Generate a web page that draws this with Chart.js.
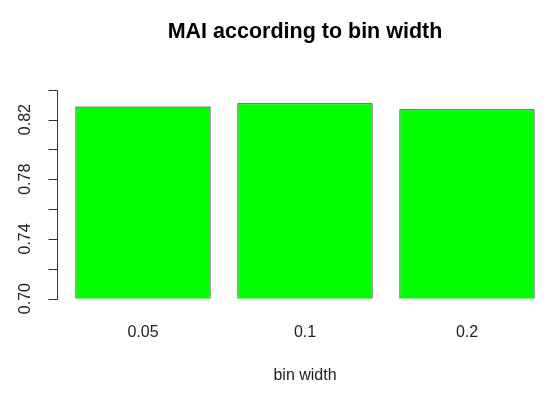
<!DOCTYPE html>
<html>
<head>
<meta charset="utf-8">
<script src="https://cdn.jsdelivr.net/npm/chart.js@4/dist/chart.umd.min.js"></script>
<style>
  html, body { margin: 0; padding: 0; background: #ffffff; }
  #wrap { width: 550px; height: 398px; }
</style>
</head>
<body>
<div id="wrap"><canvas id="c" width="550" height="398"></canvas></div>
<script>
const categories = ['0.05', '0.1', '0.2'];
const maiValues = [0.8288, 0.8310, 0.8270];
const yTickValues = [0.70, 0.72, 0.74, 0.76, 0.78, 0.80, 0.82, 0.84];
const yTickLabels = ['0.70', '', '0.74', '', '0.78', '', '0.82', ''];
const chartTitle = 'MAI according to bin width';
const xAxisTitle = 'bin width';

const FONT = '"Liberation Sans", Arial, sans-serif';

const rAxisPlugin = {
  id: 'rAxis',
  afterDraw(chart) {
    const y = chart.scales.y;
    const ctx = chart.ctx;
    const axisX = 57.5;
    ctx.save();
    ctx.strokeStyle = '#333333';
    ctx.lineWidth = 1;
    ctx.beginPath();
    const yTop = Math.round(y.getPixelForValue(yTickValues[yTickValues.length - 1])) + 0.5;
    const yBot = Math.round(y.getPixelForValue(yTickValues[0])) + 0.5;
    ctx.moveTo(axisX, yTop);
    ctx.lineTo(axisX, yBot);
    yTickValues.forEach(v => {
      const py = Math.round(y.getPixelForValue(v)) + 0.5;
      ctx.moveTo(axisX, py);
      ctx.lineTo(axisX - 9, py);
    });
    ctx.stroke();
    ctx.fillStyle = '#222222';
    ctx.font = '16px ' + FONT;
    ctx.textAlign = 'center';
    ctx.textBaseline = 'alphabetic';
    yTickValues.forEach((v, i) => {
      const lab = yTickLabels[i];
      if (!lab) return;
      const py = y.getPixelForValue(v);
      ctx.save();
      ctx.translate(30, py);
      ctx.rotate(-Math.PI / 2);
      ctx.fillText(lab, 0, 0);
      ctx.restore();
    });
    ctx.restore();
  }
};

new Chart(document.getElementById('c'), {
  type: 'bar',
  data: {
    labels: categories,
    datasets: [{
      data: maiValues,
      backgroundColor: '#00FF00',
      borderColor: '#111111',
      borderWidth: 1,
      borderSkipped: 'start',
      barPercentage: 1.0,
      categoryPercentage: 0.835
    }]
  },
  options: {
    responsive: false,
    animation: false,
    devicePixelRatio: 1,
    layout: { padding: { left: 62, right: 2, top: 0, bottom: 0 } },
    plugins: {
      legend: { display: false },
      tooltip: { enabled: false },
      title: {
        display: true,
        text: chartTitle,
        color: '#000000',
        font: { family: FONT, size: 21.5, weight: 'bold', lineHeight: 1.2 },
        padding: { top: 19, bottom: 45 }
      }
    },
    scales: {
      x: {
        grid: { display: false, drawTicks: false },
        border: { display: false },
        ticks: {
          color: '#222222',
          font: { family: FONT, size: 16, lineHeight: 1.2 },
          padding: 24,
          maxRotation: 0
        },
        title: {
          display: true,
          text: xAxisTitle,
          color: '#222222',
          font: { family: FONT, size: 16, lineHeight: 1.2 },
          padding: { top: 0, bottom: 13 }
        }
      },
      y: {
        display: false,
        min: 0.70,
        max: 0.84
      }
    }
  },
  plugins: [rAxisPlugin]
});
</script>
</body>
</html>
